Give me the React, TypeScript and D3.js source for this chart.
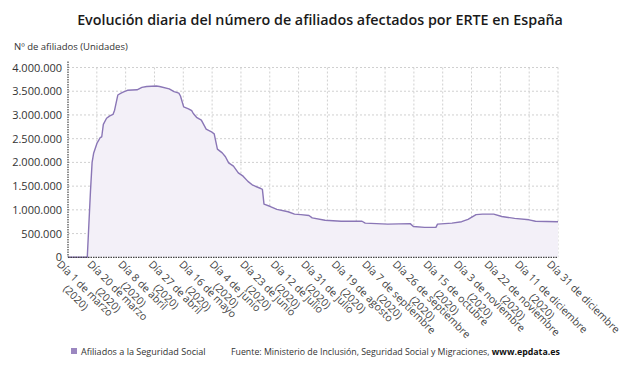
import React, { useEffect, useRef } from "react";
import * as d3 from "d3";

const TITLE = "Evolución diaria del número de afiliados afectados por ERTE en España";
const Y_TITLE = "Nº de afiliados (Unidades)";
const SERIES_NAME = "Afiliados a la Seguridad Social";
const SOURCE = "Fuente: Ministerio de Inclusión, Seguridad Social y Migraciones, ";
const SOURCE_BOLD = "www.epdata.es";

// days since 1 March 2020
const days = [
  0, 12, 13, 14, 15, 16, 18, 20, 21, 22, 24, 26, 28, 29, 31, 33, 35, 37, 43, 46, 49, 55, 57,
  63, 66, 69, 70, 72, 75, 77, 78, 80, 83, 86, 89, 91, 93, 96, 98, 100, 103, 106, 109, 112,
  115, 120, 121, 122, 126, 130, 137, 141, 145, 150, 152, 160, 170, 183, 185, 199, 213, 215,
  222, 229, 230, 239, 245, 249, 254, 258, 265, 270, 278, 287, 291, 305,
];
const afiliados = [
  0, 0, 700000, 1400000, 2000000, 2200000, 2400000, 2520000, 2540000, 2800000, 2930000,
  2980000, 3010000, 3100000, 3420000, 3460000, 3490000, 3520000, 3530000, 3580000, 3600000,
  3610000, 3600000, 3550000, 3490000, 3460000, 3400000, 3170000, 3130000, 3090000, 3030000,
  2950000, 2890000, 2700000, 2650000, 2600000, 2280000, 2200000, 2120000, 1990000, 1920000,
  1780000, 1710000, 1600000, 1520000, 1450000, 1430000, 1120000, 1070000, 1010000, 960000,
  910000, 900000, 880000, 830000, 780000, 760000, 760000, 720000, 700000, 710000, 650000,
  630000, 630000, 700000, 720000, 750000, 800000, 900000, 910000, 910000, 860000, 820000,
  790000, 760000, 750000,
];

const tickDays = [0, 19, 38, 57, 76, 95, 114, 133, 152, 171, 190, 209, 228, 247, 266, 285, 305];
const tickLabels = [
  "Día 1 de marzo", "Día 20 de marzo", "Día 8 de abril", "Día 27 de abril", "Día 16 de mayo",
  "Día 4 de junio", "Día 23 de junio", "Día 12 de julio", "Día 31 de julio", "Día 19 de agosto",
  "Día 7 de septiembre", "Día 26 de septiembre", "Día 15 de octubre", "Día 3 de noviembre",
  "Día 22 de noviembre", "Día 11 de diciembre", "Día 31 de diciembre",
];
const tickYears = ["(2020)", "(2020)", "(2020)", "(2020)", "(2020)", "(2020)", "(2020)", "(2020)",
  "(2020)", "(2020)", "(2020)", "(2020)", "(2020)", "(2020)", "(2020)", "(2020)", ""];
const yTicks = [0, 500000, 1000000, 1500000, 2000000, 2500000, 3000000, 3500000, 4000000];

const W = 638, H = 375;
const FONT = "'Open Sans', 'Noto Sans', sans-serif";

export default function App() {
  const ref = useRef<SVGSVGElement>(null);
  useEffect(() => {
    const svg = d3.select(ref.current);
    svg.selectAll("*").remove();
    const left = 68, right = 558, top = 67.5, bottom = 257.3;
    const x = d3.scaleLinear().domain([0, 305]).range([left, right]);
    const y = d3.scaleLinear().domain([0, 4000000]).range([bottom, top]);

    svg.append("text").attr("x", 320).attr("y", 25).attr("text-anchor", "middle")
      .attr("font-family", FONT).attr("font-weight", 600).attr("font-size", 14.3)
      .attr("fill", "#1a1a1a").text(TITLE);
    svg.append("text").attr("x", 14).attr("y", 50).attr("font-family", FONT)
      .attr("font-size", 9.5).attr("fill", "#333").text(Y_TITLE);

    // horizontal grid
    svg.append("g").selectAll("line").data(yTicks.slice(1)).join("line")
      .attr("x1", left).attr("x2", right).attr("y1", (d) => y(d)).attr("y2", (d) => y(d))
      .attr("stroke", "#d0d0d0").attr("stroke-dasharray", "2,2").attr("stroke-width", 1);
    // vertical grid (17 equal bands)
    const gridDays = d3.range(1, 18).map((i) => (i * 305) / 17);
    svg.append("g").selectAll("line").data(gridDays).join("line")
      .attr("x1", (d) => x(d)).attr("x2", (d) => x(d)).attr("y1", top).attr("y2", bottom)
      .attr("stroke", "#d0d0d0").attr("stroke-dasharray", "2,2").attr("stroke-width", 1);

    const pts = days.map((d, i) => [d, afiliados[i]] as [number, number]);
    const area = d3.area<[number, number]>().x((d) => x(d[0])).y0(bottom).y1((d) => y(d[1]));
    const line = d3.line<[number, number]>().x((d) => x(d[0])).y((d) => y(d[1]));
    svg.append("path").attr("d", area(pts)!).attr("fill", "#f3f0f8");
    svg.append("path").attr("d", line(pts)!).attr("fill", "none").attr("stroke", "#8a76b6")
      .attr("stroke-width", 1.4).attr("stroke-linejoin", "round");

    // axes
    svg.append("line").attr("x1", left).attr("x2", left).attr("y1", top - 6).attr("y2", bottom)
      .attr("stroke", "#444").attr("stroke-dasharray", "1.5,1").attr("stroke-width", 1.2);
    svg.append("line").attr("x1", left).attr("x2", right).attr("y1", bottom).attr("y2", bottom)
      .attr("stroke", "#444").attr("stroke-dasharray", "1.5,1").attr("stroke-width", 1.2);

    // y labels
    svg.append("g").selectAll("text").data(yTicks).join("text")
      .attr("x", 62).attr("y", (d) => y(d) + 4).attr("text-anchor", "end")
      .attr("font-family", FONT).attr("font-size", 11).attr("fill", "#333")
      .text((d) => d3.format(",")(d).replace(/,/g, "."));

    // x labels
    tickDays.forEach((d, i) => {
      const g = svg.append("g")
        .attr("transform", `translate(${x(d) - 6},${bottom + 2}) rotate(45)`);
      const t1 = g.append("text").attr("x", 0).attr("y", 8).attr("font-family", FONT)
        .attr("font-size", 10.5).attr("fill", "#444").text(tickLabels[i]);
      const w = (t1.node() as SVGTextElement).getComputedTextLength();
      if (tickYears[i]) {
        g.append("text").attr("x", w / 2).attr("y", 21).attr("text-anchor", "middle")
          .attr("font-family", FONT).attr("font-size", 10.5).attr("fill", "#444")
          .text(tickYears[i]);
      }
    });

    // legend
    svg.append("rect").attr("x", 71).attr("y", 348).attr("width", 6).attr("height", 6)
      .attr("fill", "#9b87c0");
    svg.append("text").attr("x", 81).attr("y", 355).attr("font-family", FONT)
      .attr("font-size", 9.05).attr("fill", "#333").text(SERIES_NAME);
    const src = svg.append("text").attr("x", 231).attr("y", 355).attr("font-family", FONT)
      .attr("font-size", 8.8).attr("fill", "#333");
    src.append("tspan").text(SOURCE);
    src.append("tspan").attr("font-weight", 700).attr("fill", "#111").text(SOURCE_BOLD);
  }, []);
  return (
    <svg ref={ref} width={W} height={H}
      style={{ position: "absolute", left: 0, top: 0, background: "#fff" }} />
  );
}
